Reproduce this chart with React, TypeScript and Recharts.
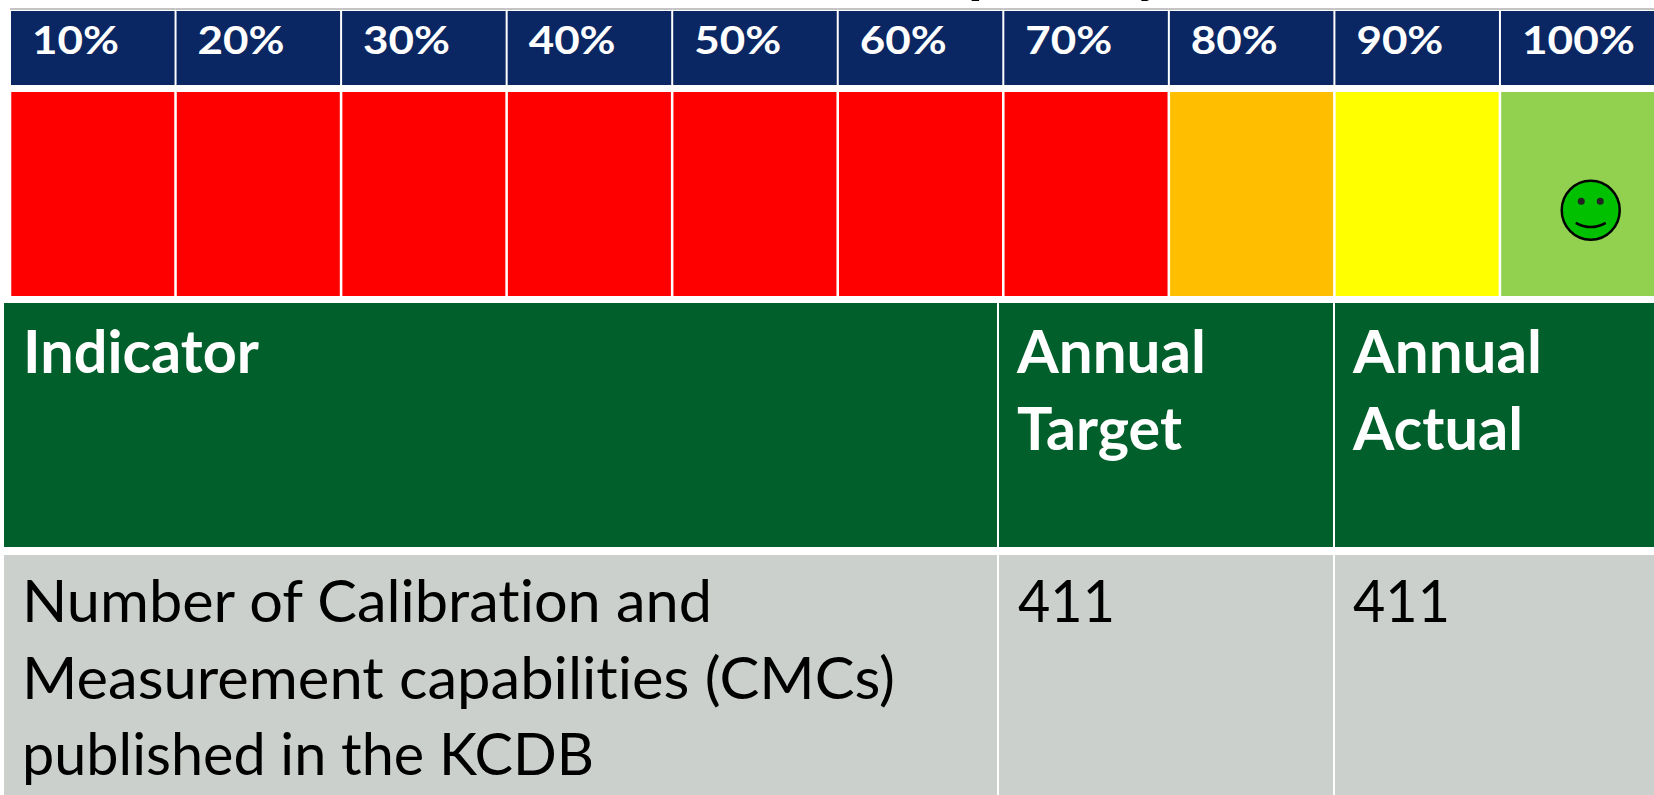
import React from 'react';
import { BarChart, Bar, Cell, XAxis, YAxis, ReferenceDot } from 'recharts';

const levels = ['10%', '20%', '30%', '40%', '50%', '60%', '70%', '80%', '90%', '100%'];
const levelValues = [100, 100, 100, 100, 100, 100, 100, 100, 100, 100];
const levelColors = ['#FF0000', '#FF0000', '#FF0000', '#FF0000', '#FF0000', '#FF0000', '#FF0000', '#FFBF00', '#FFFF00', '#92D050'];
const achievedLevel = '100%';
const achievedMark = 42;

const titleText = 'Measurement Capability';
const indicatorHeader = ['Indicator'];
const targetHeader = ['Annual', 'Target'];
const actualHeader = ['Annual', 'Actual'];
const indicatorName = ['Number of Calibration and', 'Measurement capabilities (CMCs)', 'published in the KCDB'];
const annualTarget = ['411'];
const annualActual = ['411'];

const data = levels.map((level, i) => ({ level, value: levelValues[i] }));

const CELL_W = 165.55;
const FONT = 'Lato, "Open Sans", sans-serif';

// rendered widths of each text line, Lato runs wider/narrower than the original face
const lineWidths: Record<string, number> = {
  Indicator: 236,
  Annual: 189,
  Target: 165,
  Actual: 170,
  'Number of Calibration and': 690,
  'Measurement capabilities (CMCs)': 873,
  'published in the KCDB': 572,
  '411': 97,
};

const HeaderTick = ({ x, payload }: any) => {
  const left = x - CELL_W / 2;
  return (
    <g>
      <line x1={left} x2={left + CELL_W} y1={9} y2={9} stroke="#c4c4c4" strokeWidth={2} />
      <rect x={left + 1} y={11} width={CELL_W - 2} height={74} fill="#0A2763" />
      <text
        x={left + 22}
        y={54}
        fill="#fff"
        fontFamily={FONT}
        fontWeight={700}
        fontSize={38}
        textAnchor="start"
        textLength={payload.value === '100%' ? 113 : 87}
        lengthAdjust="spacingAndGlyphs"
      >
        {payload.value}
      </text>
    </g>
  );
};

const Smiley = ({ cx, cy }: any) => {
  const c = cx + 8;
  return (
    <g>
      <ellipse cx={c} cy={cy} rx={29} ry={29.5} fill="#00C000" stroke="#000" strokeWidth={2.5} />
      <circle cx={c - 9.5} cy={cy - 9} r={3.5} fill="#222" />
      <circle cx={c + 9.5} cy={cy - 9} r={3.5} fill="#222" />
      <path d={`M${c - 15} ${cy + 12.5} Q${c} ${cy + 21} ${c + 15} ${cy + 12.5}`} fill="none" stroke="#000" strokeWidth={2.5} />
    </g>
  );
};

const Lines = ({ lines, left, baseline, color, weight }: any) => (
  <>
    {lines.map((line: string, i: number) => (
      <text
        key={line}
        x={left}
        y={baseline + i * 76.6}
        fill={color}
        fontFamily={FONT}
        fontWeight={weight}
        fontSize={59}
        textLength={lineWidths[line]}
        lengthAdjust="spacingAndGlyphs"
        style={{ fontVariantLigatures: 'none' }}
      >
        {line}
      </text>
    ))}
  </>
);

const Block = ({ left, top, width, height, color }: any) => (
  <div style={{ position: 'absolute', left, top, width, height, background: color }} />
);

export default function App() {
  return (
    <div style={{ position: 'absolute', left: 0, top: 0, width: 1654, height: 795, overflow: 'hidden', background: '#fff' }}>
      <BarChart
        width={1676}
        height={795}
        data={data}
        margin={{ top: 0, left: 10, right: 10.5, bottom: 499 }}
        barCategoryGap={1.25}
      >
        <XAxis
          dataKey="level"
          orientation="top"
          axisLine={false}
          tickLine={false}
          interval={0}
          height={92}
          tick={<HeaderTick />}
        />
        <YAxis hide domain={[0, 100]} />
        <Bar dataKey="value" isAnimationActive={false}>
          {levels.map((level, i) => (
            <Cell key={level} fill={levelColors[i]} />
          ))}
        </Bar>
        <ReferenceDot x={achievedLevel} y={achievedMark} ifOverflow="visible" shape={<Smiley />} />
      </BarChart>

      <Block left={4} top={303} width={993} height={244} color="#005F2B" />
      <Block left={999} top={303} width={334} height={244} color="#005F2B" />
      <Block left={1335} top={303} width={319} height={244} color="#005F2B" />
      <Block left={4} top={555} width={993} height={240} color="#CBD0CC" />
      <Block left={999} top={555} width={334} height={240} color="#CBD0CC" />
      <Block left={1335} top={555} width={319} height={240} color="#CBD0CC" />

      <svg width={1654} height={795} style={{ position: 'absolute', left: 0, top: 0 }}>
        {/* title sits above the crop, only its descenders show */}
        <text x={1166} y={-9} textAnchor="end" fontFamily={FONT} fontWeight={700} fontSize={60} fill="#000">
          {titleText}
        </text>
        <Lines lines={indicatorHeader} left={23} baseline={373} color="#fff" weight={700} />
        <Lines lines={targetHeader} left={1017} baseline={373} color="#fff" weight={700} />
        <Lines lines={actualHeader} left={1353} baseline={373} color="#fff" weight={700} />
        <Lines lines={indicatorName} left={22} baseline={622} color="#000" weight={400} />
        <Lines lines={annualTarget} left={1018} baseline={622} color="#000" weight={400} />
        <Lines lines={annualActual} left={1353} baseline={622} color="#000" weight={400} />
      </svg>
    </div>
  );
}
